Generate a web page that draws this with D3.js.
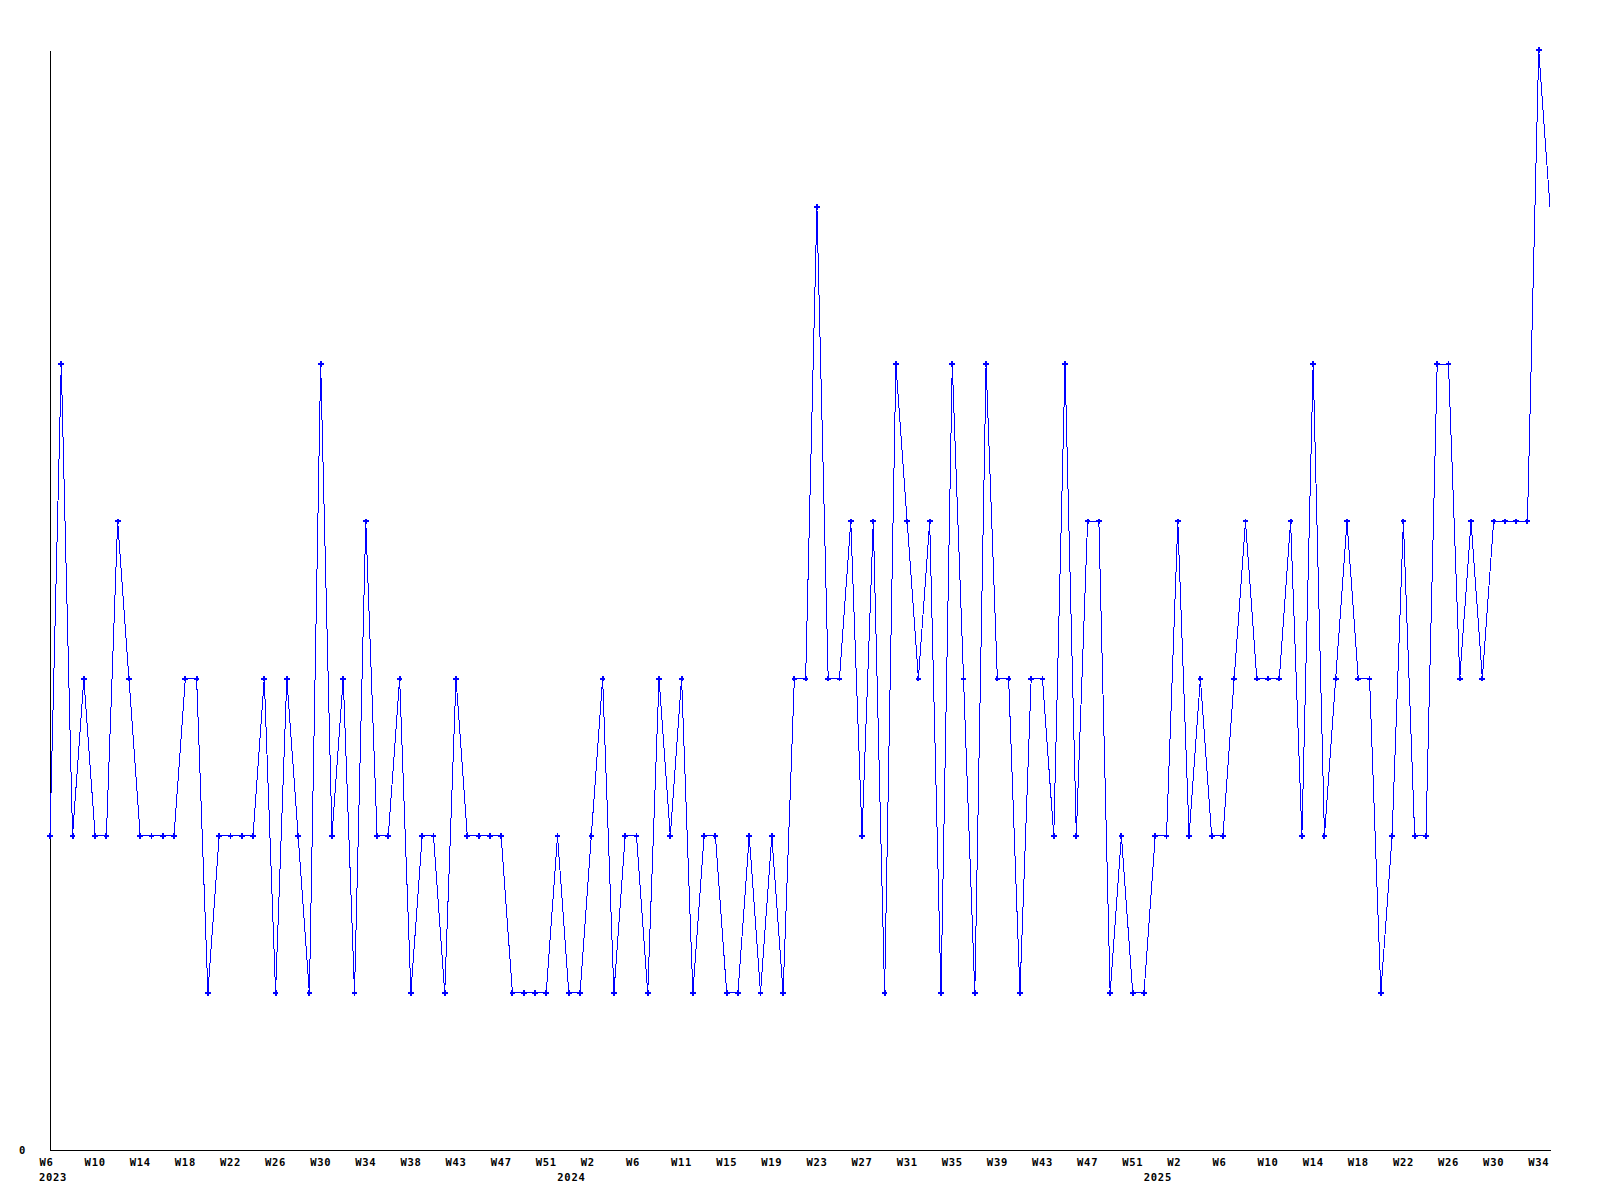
<!DOCTYPE html>
<html>
<head>
<meta charset="utf-8">
<script src="https://cdn.jsdelivr.net/npm/d3@7"></script>
<style>
  html, body { margin: 0; padding: 0; background: #ffffff; }
  svg { display: block; }
  .lbl { font-family: "DejaVu Sans Mono", "Liberation Mono", monospace; font-weight: bold; font-size: 10.5px; letter-spacing: 0.7px; fill: #000; }
</style>
</head>
<body>
<svg id="chart" width="1600" height="1200"></svg>
<script>
// ---- data ----
const startYear = 2023;
const startWeek = 6;
const yearWeeks = [52, 52, 35]; // ISO weeks in 2023, 2024, and weeks shown in 2025

const values = [
  2,5,2,3,2,2,4,3,2,2,
  2,2,3,3,1,2,2,2,2,3,
  1,3,2,1,5,2,3,1,4,2,
  2,3,1,2,2,1,3,2,2,2,
  2,1,1,1,1,2,1,1,2,3,
  1,2,2,1,3,2,3,1,2,2,
  1,1,2,1,2,1,3,3,6,3,
  3,4,2,4,1,5,4,3,4,1,
  5,3,1,5,3,3,1,3,3,2,
  5,2,4,4,1,2,1,1,2,2,
  4,2,3,2,2,3,4,3,3,3,
  4,2,5,2,3,4,3,3,1,2,
  4,2,2,5,5,3,4,3,4,4,
  4,4,7,6
];

const tickLabels = ["W6","W10","W14","W18","W22","W26","W30","W34","W38","W43","W47","W51",
  "W2","W6","W11","W15","W19","W23","W27","W31","W35","W39","W43","W47","W51",
  "W2","W6","W10","W14","W18","W22","W26","W30","W34"];
const yearLabels = ["2023","2024","2025"];
const yearTickIndex = [0, 12, 25];
const yMax = 7;

// ---- categories ----
const categories = [];
yearWeeks.forEach((n, k) => {
  const yr = startYear + k;
  for (let w = (k === 0 ? startWeek : 1); w <= n; w++) categories.push(yr + "-W" + w);
});
const data = categories.map((c, i) => ({ cat: c, v: values[i] }));

// ---- layout ----
const svg = d3.select("#chart");
const plotLeft = 50, plotRight = 1550, plotTop = 50, plotBottom = 1150;

const x = d3.scalePoint().domain(categories).range([plotLeft, plotRight]);
const y = d3.scaleLinear().domain([0, yMax]).range([plotBottom, plotTop]);

// x axis
const tickCats = categories.filter((c, i) => i % 4 === 0);
const xAxis = d3.axisBottom(x)
  .tickValues(tickCats)
  .tickSizeInner(0).tickSizeOuter(0)
  .tickFormat((d, i) => tickLabels[i]);
const gx = svg.append("g").attr("transform", `translate(0,${plotBottom})`).call(xAxis);
gx.attr("font-family", null).attr("font-size", null);
gx.select(".domain").attr("stroke", "#000").attr("stroke-width", 1).attr("shape-rendering", "crispEdges");
gx.selectAll(".tick line").remove();
gx.selectAll(".tick text")
  .attr("class", "lbl")
  .attr("text-anchor", "start")
  .attr("x", -11)
  .attr("y", 16)
  .attr("dy", null);

// year labels
svg.append("g").selectAll("text")
  .data(yearLabels)
  .join("text")
  .attr("class", "lbl")
  .attr("x", (d, k) => x(tickCats[yearTickIndex[k]]) + (k === 0 ? -11 : -34))
  .attr("y", plotBottom + 31)
  .text(d => d);

// y axis
const yAxis = d3.axisLeft(y).tickValues([0]).tickSizeInner(0).tickSizeOuter(0).tickPadding(24).tickFormat(d3.format("d"));
const gy = svg.append("g").attr("transform", `translate(${plotLeft},0)`).call(yAxis);
gy.attr("font-family", null).attr("font-size", null);
gy.select(".domain").attr("stroke", "#000").attr("stroke-width", 1).attr("shape-rendering", "crispEdges");
gy.selectAll(".tick line").remove();
gy.selectAll(".tick text").attr("class", "lbl");

// line
const line = d3.line().x(d => x(d.cat)).y(d => y(d.v));
svg.append("path")
  .datum(data)
  .attr("fill", "none")
  .attr("stroke", "#0000ff")
  .attr("stroke-width", 1)
  .attr("shape-rendering", "crispEdges")
  .attr("d", line);

// markers (last, incomplete week drawn without a marker)
svg.append("g").selectAll("path")
  .data(data.slice(0, data.length - 1))
  .join("path")
  .attr("transform", d => `translate(${x(d.cat)},${y(d.v)})`)
  .attr("d", d3.symbol(d3.symbolCross, 18))
  .attr("fill", "#0000ff")
  .attr("shape-rendering", "crispEdges");
</script>
</body>
</html>
